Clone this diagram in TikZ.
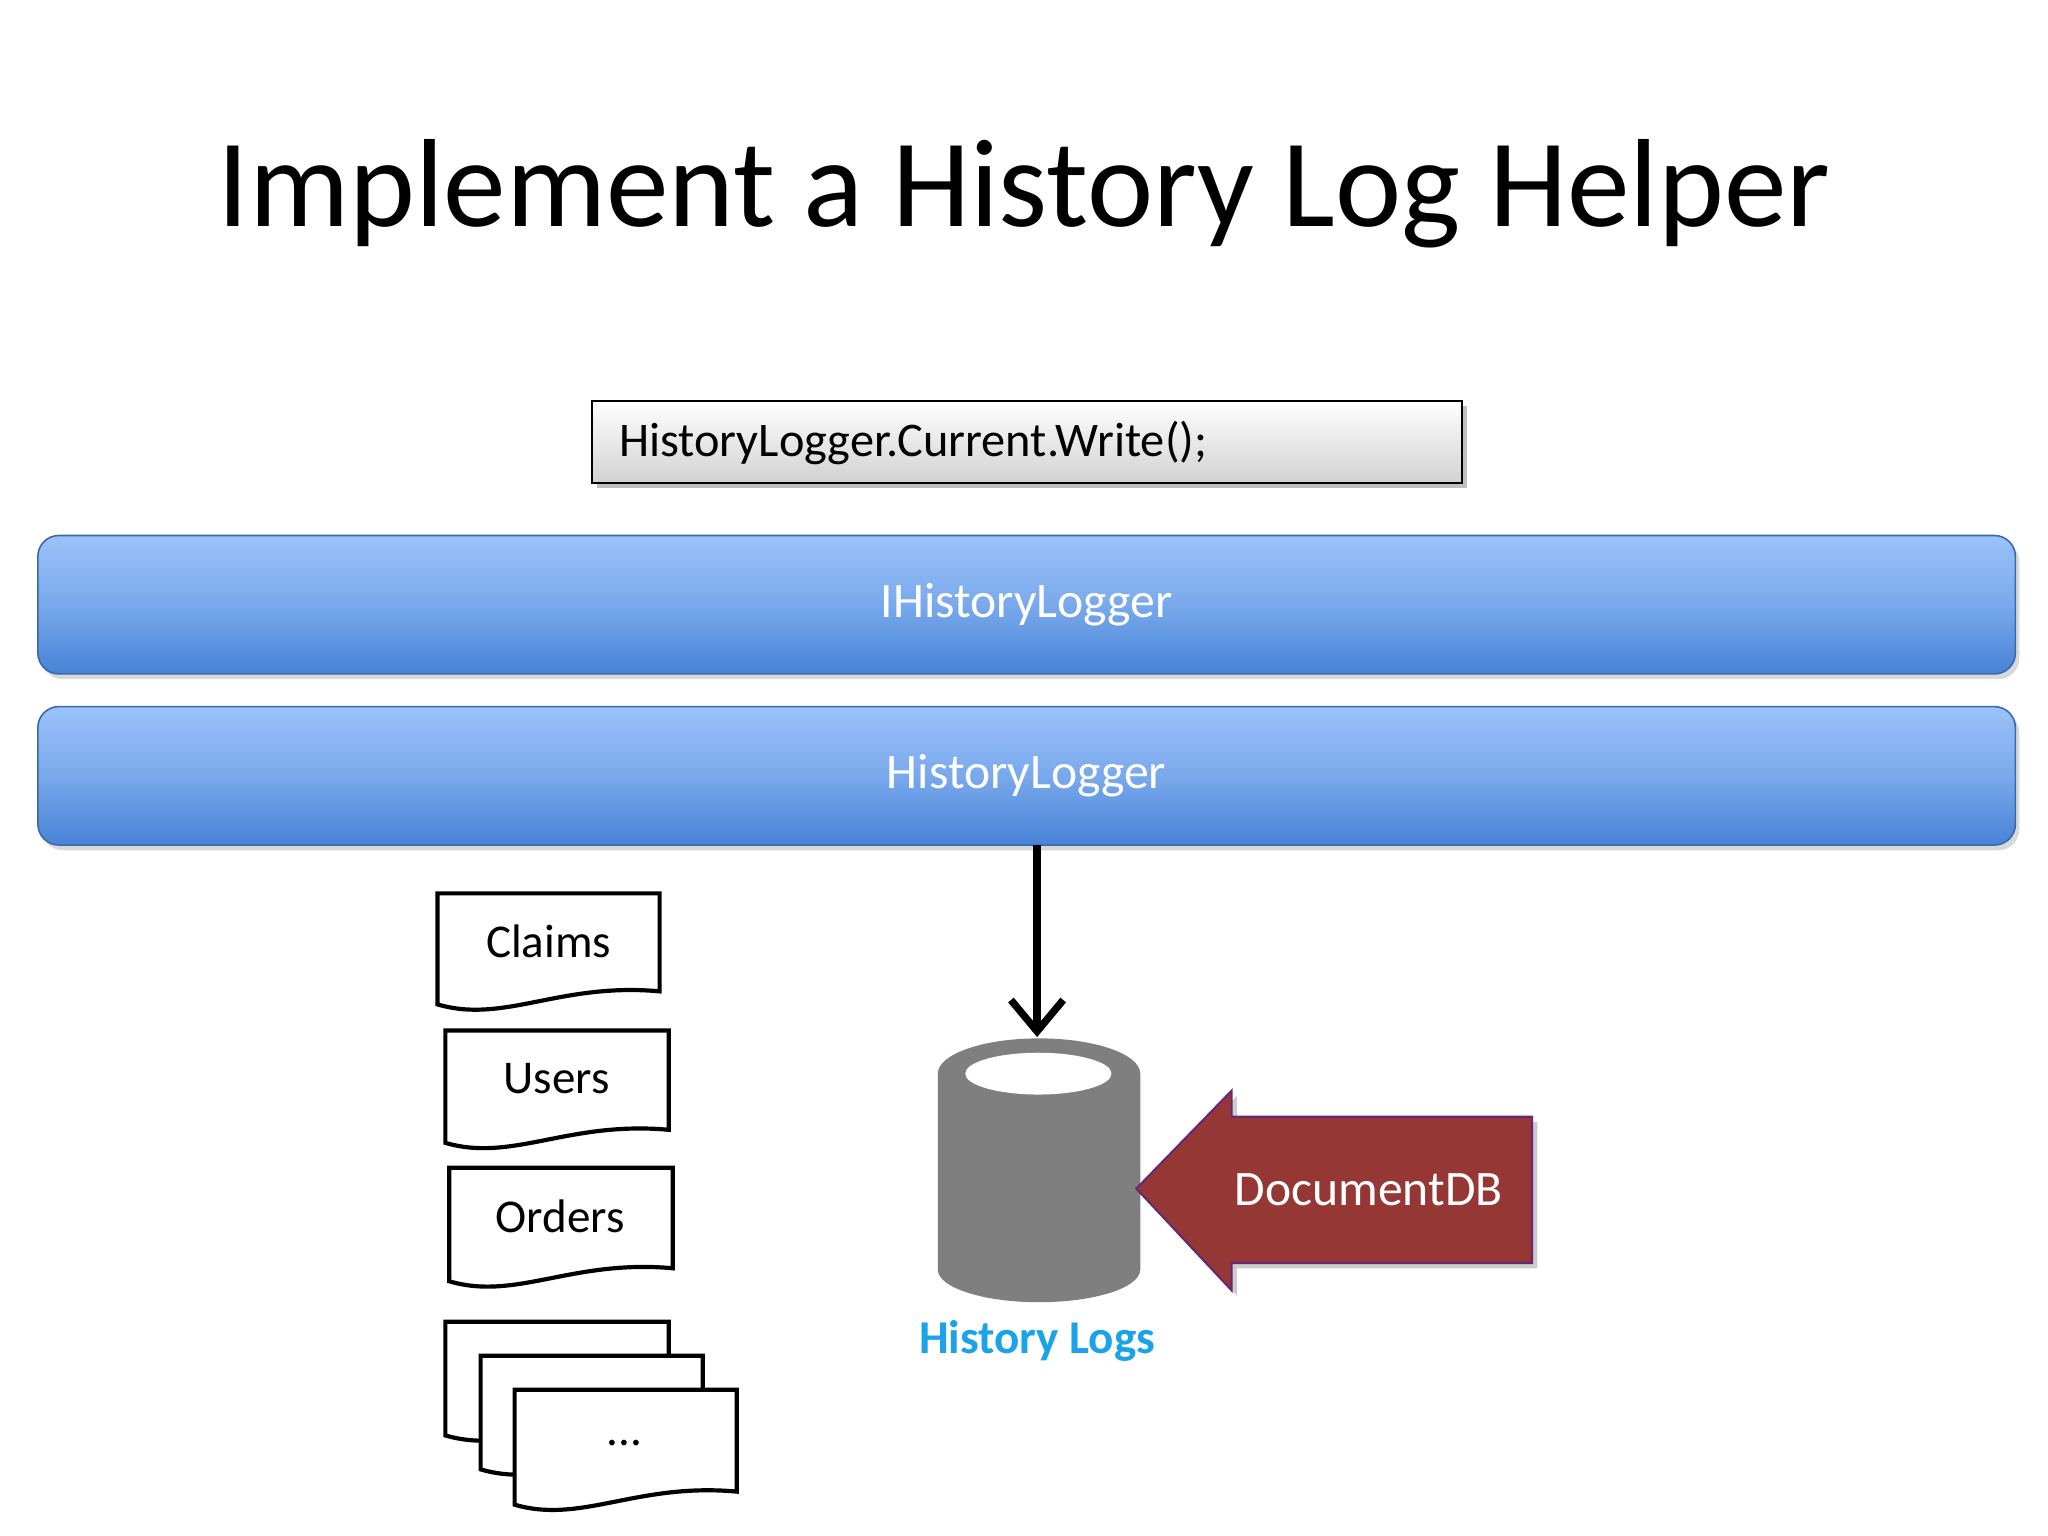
\documentclass[tikz,border=0pt]{standalone}
\usepackage{fontspec}
\setmainfont{Carlito}
\usetikzlibrary{shapes.arrows,arrows.meta}
\definecolor{bluetop}{HTML}{9BC2FA}
\definecolor{bluebot}{HTML}{4783D6}
\definecolor{dbred}{HTML}{953735}
\definecolor{cylgray}{HTML}{7F7F7F}
\definecolor{logblue}{HTML}{1AA3E8}
\tikzset{
 bar/.style={draw=bluebot!80!black, line width=0.6pt, rounded corners=8pt, top color=bluetop, bottom color=bluebot, middle color=bluetop!60!bluebot},
 bartext/.style={text=white, font=\fontsize{19}{22}\selectfont},
 doc/.style={draw=black, line width=1.6pt, fill=white, line join=miter},
 doctext/.style={font=\fontsize{18}{22}\selectfont},
}
\newcommand{\docpath}[4]{% x1 x2 top bottom
 \path[doc] (#1,#3) -- (#2,#3) -- (#2,#4-13) .. controls ({#1+0.55*(#2-#1)},#4-20) and ({#1+0.3*(#2-#1)},#4+12) .. (#1,#4-3) -- cycle;}
\begin{document}
\begin{tikzpicture}[x=0.5pt,y=-0.5pt]
\useasboundingbox[fill=white] (0,0) rectangle (1568,1176);
\node (title) at (784,148) {\fontsize{48}{56}\selectfont Implement a History Log Helper};
% code box
\fill[black!25] (457,311) rectangle (1123,374);
\path[draw=black, line width=0.8pt, top color=white, bottom color=black!18] (453,307) rectangle (1119,370);
\node[anchor=west, font=\fontsize{18.5}{22}\selectfont] (code) at (467,339) {HistoryLogger.Current.Write();};
% bars
\fill[black!15, rounded corners=8pt] (32,414) rectangle (1546,520);
\path[bar] (29,410) rectangle (1543,516);
\node[bartext] (ihl) at (786,463) {IHistoryLogger};
\fill[black!15, rounded corners=8pt] (32,545) rectangle (1546,651);
\path[bar] (29,541) rectangle (1543,647);
\node[bartext] (hl) at (786,594) {HistoryLogger};
\coordinate (hlbottom) at (794,647);
% cylinder
\fill[cylgray] (718,822) -- (718,972) arc[start angle=180,end angle=0,x radius=77.5,y radius=25] -- (873,822) arc[start angle=0,end angle=-180,x radius=77.5,y radius=27] -- cycle;
\fill[white] (795,822) ellipse[x radius=56,y radius=16];
\coordinate (cyltop) at (794,794);
\node[font=\bfseries\fontsize{18}{22}\selectfont, text=logblue] (logs) at (794,1027) {History Logs};
\draw[line width=2.8pt, -{Straight Barb[length=12pt,width=20pt,line width=2.8pt]}] (hlbottom) -- (cyltop);
% DocumentDB arrow
\fill[black!20] (874,914) -- (947,839) -- (947,859) -- (1177,859) -- (1177,971) -- (947,971) -- (947,992) -- cycle;
\path[fill=dbred, draw=dbred!70!blue, line width=0.8pt] (870,910) -- (943,835) -- (943,855) -- (1173,855) -- (1173,967) -- (943,967) -- (943,988) -- cycle;
\node[text=white, font=\fontsize{19}{22}\selectfont] (ddb) at (1048,911) {DocumentDB};
% documents
\docpath{335}{505}{684}{772}
\node[doctext] (claims) at (420,721) {Claims};
\docpath{341}{512}{789}{878}
\node[doctext] (users) at (426,826) {Users};
\docpath{344}{515}{894}{984}
\node[doctext] (orders) at (429,931) {Orders};
\docpath{341}{512}{1012}{1102}
\docpath{368}{538}{1038}{1128}
\docpath{394}{564}{1064}{1155}
\node[doctext] (more) at (478,1105) {...};
\end{tikzpicture}
\end{document}
